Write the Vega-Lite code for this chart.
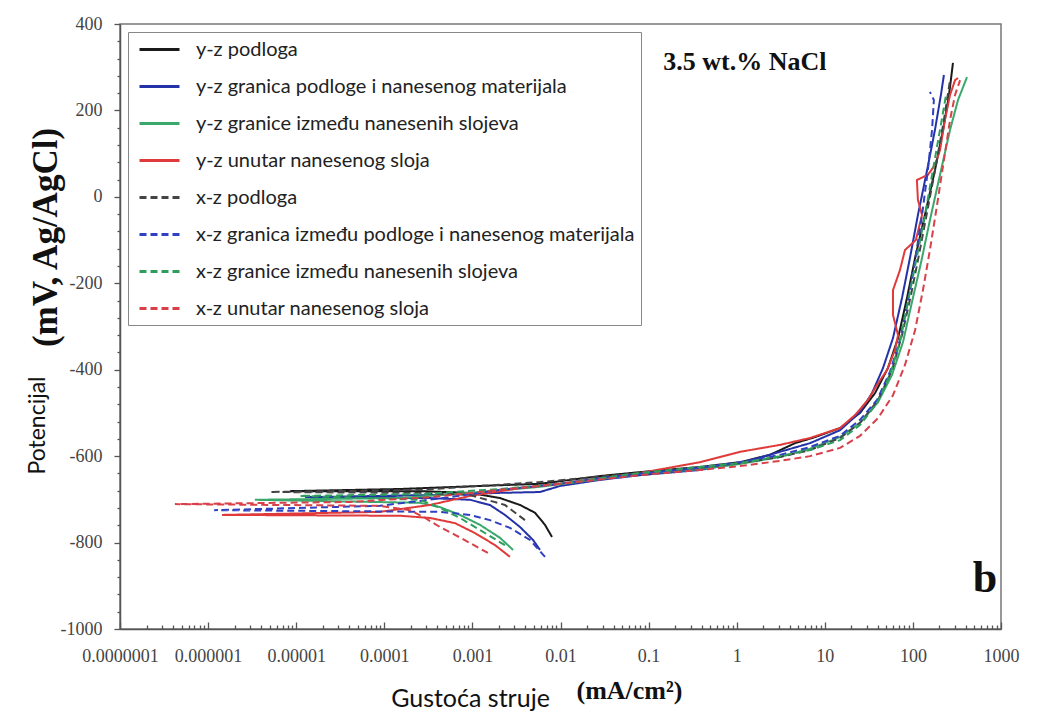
{
  "$schema": "https://vega.github.io/schema/vega-lite/v6.json",
  "width": 881,
  "height": 605,
  "autosize": {"type": "none"},
  "padding": {"left": 120, "top": 24, "right": 43, "bottom": 96},
  "background": "white",
  "config": {
    "view": {"stroke": "#777", "strokeWidth": 1.5},
    "axis": {"grid": false, "domainColor": "#555", "domainWidth": 1.5, "tickColor": "#555", "tickWidth": 1.3, "labelFont": "Liberation Serif", "labelFontSize": 18, "labelColor": "#444"}
  },
  "datasets": {
    "curves": [
      {"s":"y-z podloga","k":1,"i":0.0080,"E":-787},{"s":"y-z podloga","k":2,"i":0.00667,"E":-759},{"s":"y-z podloga","k":3,"i":0.00514,"E":-731},{"s":"y-z podloga","k":4,"i":0.00347,"E":-713},{"s":"y-z podloga","k":5,"i":0.00206,"E":-697},{"s":"y-z podloga","k":6,"i":0.00094,"E":-685},{"s":"y-z podloga","k":7,"i":0.000254,"E":-681},{"s":"y-z podloga","k":8,"i":0.0000085,"E":-681},{"s":"y-z podloga","k":9,"i":0.000151,"E":-676},{"s":"y-z podloga","k":10,"i":0.00122,"E":-669},{"s":"y-z podloga","k":11,"i":0.00585,"E":-664},{"s":"y-z podloga","k":12,"i":0.0281,"E":-646},{"s":"y-z podloga","k":13,"i":0.0798,"E":-637},{"s":"y-z podloga","k":14,"i":0.383,"E":-625},{"s":"y-z podloga","k":15,"i":1.09,"E":-614},{"s":"y-z podloga","k":16,"i":2.39,"E":-597},{"s":"y-z podloga","k":17,"i":4.59,"E":-570},{"s":"y-z podloga","k":18,"i":7.74,"E":-556},{"s":"y-z podloga","k":19,"i":14.9,"E":-535},{"s":"y-z podloga","k":20,"i":25.1,"E":-500},{"s":"y-z podloga","k":21,"i":37.2,"E":-454},{"s":"y-z podloga","k":22,"i":52.1,"E":-396},{"s":"y-z podloga","k":23,"i":67.8,"E":-327},{"s":"y-z podloga","k":24,"i":85.7,"E":-234},{"s":"y-z podloga","k":25,"i":106,"E":-141},{"s":"y-z podloga","k":26,"i":137,"E":-42},{"s":"y-z podloga","k":27,"i":178,"E":62},{"s":"y-z podloga","k":28,"i":220,"E":155},{"s":"y-z podloga","k":29,"i":257,"E":236},{"s":"y-z podloga","k":30,"i":285,"E":310},

      {"s":"y-z granica podloge i nanesenog materijala","k":1,"i":0.00585,"E":-817},{"s":"y-z granica podloge i nanesenog materijala","k":2,"i":0.00488,"E":-794},{"s":"y-z granica podloge i nanesenog materijala","k":3,"i":0.00347,"E":-764},{"s":"y-z granica podloge i nanesenog materijala","k":4,"i":0.00234,"E":-736},{"s":"y-z granica podloge i nanesenog materijala","k":5,"i":0.00158,"E":-713},{"s":"y-z granica podloge i nanesenog materijala","k":6,"i":0.00094,"E":-701},{"s":"y-z granica podloge i nanesenog materijala","k":7,"i":0.00033,"E":-697},{"s":"y-z granica podloge i nanesenog materijala","k":8,"i":0.0000126,"E":-695},{"s":"y-z granica podloge i nanesenog materijala","k":9,"i":0.00033,"E":-690},{"s":"y-z granica podloge i nanesenog materijala","k":10,"i":0.00206,"E":-685},{"s":"y-z granica podloge i nanesenog materijala","k":11,"i":0.00585,"E":-683},{"s":"y-z granica podloge i nanesenog materijala","k":12,"i":0.0099,"E":-669},{"s":"y-z granica podloge i nanesenog materijala","k":13,"i":0.0281,"E":-655},{"s":"y-z granica podloge i nanesenog materijala","k":14,"i":0.0798,"E":-644},{"s":"y-z granica podloge i nanesenog materijala","k":15,"i":0.383,"E":-632},{"s":"y-z granica podloge i nanesenog materijala","k":16,"i":1.09,"E":-616},{"s":"y-z granica podloge i nanesenog materijala","k":17,"i":3.10,"E":-590},{"s":"y-z granica podloge i nanesenog materijala","k":18,"i":6.79,"E":-570},{"s":"y-z granica podloge i nanesenog materijala","k":19,"i":14.9,"E":-540},{"s":"y-z granica podloge i nanesenog materijala","k":20,"i":25.1,"E":-498},{"s":"y-z granica podloge i nanesenog materijala","k":21,"i":34.4,"E":-454},{"s":"y-z granica podloge i nanesenog materijala","k":22,"i":45.8,"E":-396},{"s":"y-z granica podloge i nanesenog materijala","k":23,"i":59.4,"E":-327},{"s":"y-z granica podloge i nanesenog materijala","k":24,"i":75.2,"E":-234},{"s":"y-z granica podloge i nanesenog materijala","k":25,"i":92.7,"E":-141},{"s":"y-z granica podloge i nanesenog materijala","k":26,"i":114,"E":-42},{"s":"y-z granica podloge i nanesenog materijala","k":27,"i":145,"E":62},{"s":"y-z granica podloge i nanesenog materijala","k":28,"i":178,"E":155},{"s":"y-z granica podloge i nanesenog materijala","k":29,"i":208,"E":236},{"s":"y-z granica podloge i nanesenog materijala","k":30,"i":225,"E":282},

      {"s":"y-z granice između nanesenih slojeva","k":1,"i":0.00289,"E":-817},{"s":"y-z granice između nanesenih slojeva","k":2,"i":0.00206,"E":-789},{"s":"y-z granice između nanesenih slojeva","k":3,"i":0.00122,"E":-759},{"s":"y-z granice između nanesenih slojeva","k":4,"i":0.000722,"E":-736},{"s":"y-z granice između nanesenih slojeva","k":5,"i":0.000429,"E":-718},{"s":"y-z granice između nanesenih slojeva","k":6,"i":0.000254,"E":-708},{"s":"y-z granice između nanesenih slojeva","k":7,"i":0.0000034,"E":-701},{"s":"y-z granice između nanesenih slojeva","k":8,"i":0.000151,"E":-697},{"s":"y-z granice između nanesenih slojeva","k":9,"i":0.00122,"E":-683},{"s":"y-z granice između nanesenih slojeva","k":10,"i":0.00585,"E":-671},{"s":"y-z granice između nanesenih slojeva","k":11,"i":0.0281,"E":-653},{"s":"y-z granice između nanesenih slojeva","k":12,"i":0.0798,"E":-641},{"s":"y-z granice između nanesenih slojeva","k":13,"i":0.383,"E":-630},{"s":"y-z granice između nanesenih slojeva","k":14,"i":1.09,"E":-618},{"s":"y-z granice između nanesenih slojeva","k":15,"i":3.10,"E":-602},{"s":"y-z granice između nanesenih slojeva","k":16,"i":6.79,"E":-583},{"s":"y-z granice između nanesenih slojeva","k":17,"i":14.9,"E":-556},{"s":"y-z granice između nanesenih slojeva","k":18,"i":25.1,"E":-523},{"s":"y-z granice između nanesenih slojeva","k":19,"i":40.2,"E":-475},{"s":"y-z granice između nanesenih slojeva","k":20,"i":57.9,"E":-412},{"s":"y-z granice između nanesenih slojeva","k":21,"i":77.2,"E":-336},{"s":"y-z granice između nanesenih slojeva","k":22,"i":97.7,"E":-243},{"s":"y-z granice između nanesenih slojeva","k":23,"i":124,"E":-151},{"s":"y-z granice između nanesenih slojeva","k":24,"i":156,"E":-54},{"s":"y-z granice između nanesenih slojeva","k":25,"i":203,"E":51},{"s":"y-z granice između nanesenih slojeva","k":26,"i":264,"E":155},{"s":"y-z granice između nanesenih slojeva","k":27,"i":325,"E":224},{"s":"y-z granice između nanesenih slojeva","k":28,"i":411,"E":277},

      {"s":"y-z unutar nanesenog sloja","k":1,"i":0.00267,"E":-833},{"s":"y-z unutar nanesenog sloja","k":2,"i":0.00181,"E":-806},{"s":"y-z unutar nanesenog sloja","k":3,"i":0.00107,"E":-778},{"s":"y-z unutar nanesenog sloja","k":4,"i":0.000634,"E":-755},{"s":"y-z unutar nanesenog sloja","k":5,"i":0.00033,"E":-743},{"s":"y-z unutar nanesenog sloja","k":6,"i":0.000151,"E":-738},{"s":"y-z unutar nanesenog sloja","k":7,"i":0.00000144,"E":-736},{"s":"y-z unutar nanesenog sloja","k":8,"i":0.000089,"E":-729},{"s":"y-z unutar nanesenog sloja","k":9,"i":0.00033,"E":-713},{"s":"y-z unutar nanesenog sloja","k":10,"i":0.00094,"E":-692},{"s":"y-z unutar nanesenog sloja","k":11,"i":0.00347,"E":-674},{"s":"y-z unutar nanesenog sloja","k":12,"i":0.0099,"E":-664},{"s":"y-z unutar nanesenog sloja","k":13,"i":0.0281,"E":-651},{"s":"y-z unutar nanesenog sloja","k":14,"i":0.0798,"E":-639},{"s":"y-z unutar nanesenog sloja","k":15,"i":0.383,"E":-614},{"s":"y-z unutar nanesenog sloja","k":16,"i":1.09,"E":-590},{"s":"y-z unutar nanesenog sloja","k":17,"i":3.10,"E":-574},{"s":"y-z unutar nanesenog sloja","k":18,"i":6.79,"E":-558},{"s":"y-z unutar nanesenog sloja","k":19,"i":14.9,"E":-535},{"s":"y-z unutar nanesenog sloja","k":20,"i":22.0,"E":-505},{"s":"y-z unutar nanesenog sloja","k":21,"i":30.9,"E":-470},{"s":"y-z unutar nanesenog sloja","k":22,"i":39.2,"E":-435},{"s":"y-z unutar nanesenog sloja","k":23,"i":50.8,"E":-401},{"s":"y-z unutar nanesenog sloja","k":24,"i":62.7,"E":-354},{"s":"y-z unutar nanesenog sloja","k":25,"i":67.8,"E":-320},{"s":"y-z unutar nanesenog sloja","k":26,"i":59.4,"E":-273},{"s":"y-z unutar nanesenog sloja","k":27,"i":59.4,"E":-216},{"s":"y-z unutar nanesenog sloja","k":28,"i":71.4,"E":-169},{"s":"y-z unutar nanesenog sloja","k":29,"i":81.3,"E":-123},{"s":"y-z unutar nanesenog sloja","k":30,"i":108,"E":-100},{"s":"y-z unutar nanesenog sloja","k":31,"i":127,"E":-42},{"s":"y-z unutar nanesenog sloja","k":32,"i":114,"E":-7},{"s":"y-z unutar nanesenog sloja","k":33,"i":111,"E":39},{"s":"y-z unutar nanesenog sloja","k":34,"i":148,"E":51},{"s":"y-z unutar nanesenog sloja","k":35,"i":178,"E":74},{"s":"y-z unutar nanesenog sloja","k":36,"i":203,"E":108},{"s":"y-z unutar nanesenog sloja","k":37,"i":231,"E":178},{"s":"y-z unutar nanesenog sloja","k":38,"i":264,"E":236},{"s":"y-z unutar nanesenog sloja","k":39,"i":301,"E":270},{"s":"y-z unutar nanesenog sloja","k":40,"i":325,"E":275},

      {"s":"x-z podloga","k":1,"i":0.00395,"E":-748},{"s":"x-z podloga","k":2,"i":0.00234,"E":-713},{"s":"x-z podloga","k":3,"i":0.00094,"E":-690},{"s":"x-z podloga","k":4,"i":0.000254,"E":-685},{"s":"x-z podloga","k":5,"i":0.00000505,"E":-683},{"s":"x-z podloga","k":6,"i":0.000254,"E":-678},{"s":"x-z podloga","k":7,"i":0.00585,"E":-660},{"s":"x-z podloga","k":8,"i":0.0798,"E":-639},{"s":"x-z podloga","k":9,"i":0.383,"E":-627},{"s":"x-z podloga","k":10,"i":1.09,"E":-616},{"s":"x-z podloga","k":11,"i":3.10,"E":-602},{"s":"x-z podloga","k":12,"i":6.79,"E":-586},{"s":"x-z podloga","k":13,"i":14.9,"E":-558},{"s":"x-z podloga","k":14,"i":25.1,"E":-523},{"s":"x-z podloga","k":15,"i":40.2,"E":-470},{"s":"x-z podloga","k":16,"i":57.9,"E":-401},{"s":"x-z podloga","k":17,"i":75.2,"E":-320},{"s":"x-z podloga","k":18,"i":95.1,"E":-227},{"s":"x-z podloga","k":19,"i":117,"E":-135},{"s":"x-z podloga","k":20,"i":145,"E":-35},{"s":"x-z podloga","k":21,"i":183,"E":74},{"s":"x-z podloga","k":22,"i":225,"E":178},{"s":"x-z podloga","k":23,"i":264,"E":270},

      {"s":"x-z granica između podloge i nanesenog materijala","k":1,"i":0.00667,"E":-833},{"s":"x-z granica između podloge i nanesenog materijala","k":2,"i":0.00451,"E":-794},{"s":"x-z granica između podloge i nanesenog materijala","k":3,"i":0.00267,"E":-766},{"s":"x-z granica između podloge i nanesenog materijala","k":4,"i":0.00158,"E":-748},{"s":"x-z granica između podloge i nanesenog materijala","k":5,"i":0.00094,"E":-736},{"s":"x-z granica između podloge i nanesenog materijala","k":6,"i":0.000429,"E":-729},{"s":"x-z granica između podloge i nanesenog materijala","k":7,"i":0.00000117,"E":-725},{"s":"x-z granica između podloge i nanesenog materijala","k":8,"i":0.000089,"E":-715},{"s":"x-z granica između podloge i nanesenog materijala","k":9,"i":0.000557,"E":-695},{"s":"x-z granica između podloge i nanesenog materijala","k":10,"i":0.00206,"E":-678},{"s":"x-z granica između podloge i nanesenog materijala","k":11,"i":0.0099,"E":-664},{"s":"x-z granica između podloge i nanesenog materijala","k":12,"i":0.0281,"E":-651},{"s":"x-z granica između podloge i nanesenog materijala","k":13,"i":0.0798,"E":-641},{"s":"x-z granica između podloge i nanesenog materijala","k":14,"i":0.383,"E":-627},{"s":"x-z granica između podloge i nanesenog materijala","k":15,"i":1.09,"E":-614},{"s":"x-z granica između podloge i nanesenog materijala","k":16,"i":3.10,"E":-597},{"s":"x-z granica između podloge i nanesenog materijala","k":17,"i":6.79,"E":-579},{"s":"x-z granica između podloge i nanesenog materijala","k":18,"i":14.9,"E":-553},{"s":"x-z granica između podloge i nanesenog materijala","k":19,"i":25.1,"E":-516},{"s":"x-z granica između podloge i nanesenog materijala","k":20,"i":39.2,"E":-470},{"s":"x-z granica između podloge i nanesenog materijala","k":21,"i":54.9,"E":-405},{"s":"x-z granica između podloge i nanesenog materijala","k":22,"i":71.4,"E":-331},{"s":"x-z granica između podloge i nanesenog materijala","k":23,"i":87.9,"E":-239},{"s":"x-z granica između podloge i nanesenog materijala","k":24,"i":106,"E":-146},{"s":"x-z granica između podloge i nanesenog materijala","k":25,"i":127,"E":-42},{"s":"x-z granica između podloge i nanesenog materijala","k":26,"i":148,"E":62},{"s":"x-z granica između podloge i nanesenog materijala","k":27,"i":165,"E":155},{"s":"x-z granica između podloge i nanesenog materijala","k":28,"i":173,"E":224},{"s":"x-z granica između podloge i nanesenog materijala","k":29,"i":156,"E":243},

      {"s":"x-z granice između nanesenih slojeva","k":1,"i":0.00234,"E":-806},{"s":"x-z granice između nanesenih slojeva","k":2,"i":0.00122,"E":-771},{"s":"x-z granice između nanesenih slojeva","k":3,"i":0.000722,"E":-743},{"s":"x-z granice između nanesenih slojeva","k":4,"i":0.000429,"E":-720},{"s":"x-z granice između nanesenih slojeva","k":5,"i":0.000254,"E":-701},{"s":"x-z granice između nanesenih slojeva","k":6,"i":0.000011,"E":-692},{"s":"x-z granice između nanesenih slojeva","k":7,"i":0.000254,"E":-688},{"s":"x-z granice između nanesenih slojeva","k":8,"i":0.00206,"E":-676},{"s":"x-z granice između nanesenih slojeva","k":9,"i":0.0099,"E":-664},{"s":"x-z granice između nanesenih slojeva","k":10,"i":0.0798,"E":-639},{"s":"x-z granice između nanesenih slojeva","k":11,"i":0.383,"E":-625},{"s":"x-z granice između nanesenih slojeva","k":12,"i":1.09,"E":-616},{"s":"x-z granice između nanesenih slojeva","k":13,"i":3.10,"E":-600},{"s":"x-z granice između nanesenih slojeva","k":14,"i":6.79,"E":-586},{"s":"x-z granice između nanesenih slojeva","k":15,"i":14.9,"E":-563},{"s":"x-z granice između nanesenih slojeva","k":16,"i":25.1,"E":-528},{"s":"x-z granice između nanesenih slojeva","k":17,"i":39.2,"E":-477},{"s":"x-z granice između nanesenih slojeva","k":18,"i":54.9,"E":-412},{"s":"x-z granice između nanesenih slojeva","k":19,"i":71.4,"E":-336},{"s":"x-z granice između nanesenih slojeva","k":20,"i":87.9,"E":-243},{"s":"x-z granice između nanesenih slojeva","k":21,"i":108,"E":-151},{"s":"x-z granice između nanesenih slojeva","k":22,"i":134,"E":-54},{"s":"x-z granice između nanesenih slojeva","k":23,"i":165,"E":51},{"s":"x-z granice između nanesenih slojeva","k":24,"i":203,"E":155},{"s":"x-z granice između nanesenih slojeva","k":25,"i":238,"E":236},

      {"s":"x-z unutar nanesenog sloja","k":1,"i":0.0015,"E":-824},{"s":"x-z unutar nanesenog sloja","k":2,"i":0.00094,"E":-801},{"s":"x-z unutar nanesenog sloja","k":3,"i":0.000634,"E":-782},{"s":"x-z unutar nanesenog sloja","k":4,"i":0.000429,"E":-764},{"s":"x-z unutar nanesenog sloja","k":5,"i":0.00029,"E":-743},{"s":"x-z unutar nanesenog sloja","k":6,"i":0.000196,"E":-725},{"s":"x-z unutar nanesenog sloja","k":7,"i":0.000089,"E":-715},{"s":"x-z unutar nanesenog sloja","k":8,"i":0.00000042,"E":-711},{"s":"x-z unutar nanesenog sloja","k":9,"i":0.000041,"E":-706},{"s":"x-z unutar nanesenog sloja","k":10,"i":0.00033,"E":-695},{"s":"x-z unutar nanesenog sloja","k":11,"i":0.00206,"E":-678},{"s":"x-z unutar nanesenog sloja","k":12,"i":0.0099,"E":-664},{"s":"x-z unutar nanesenog sloja","k":13,"i":0.0798,"E":-644},{"s":"x-z unutar nanesenog sloja","k":14,"i":0.383,"E":-632},{"s":"x-z unutar nanesenog sloja","k":15,"i":1.09,"E":-623},{"s":"x-z unutar nanesenog sloja","k":16,"i":3.10,"E":-611},{"s":"x-z unutar nanesenog sloja","k":17,"i":6.79,"E":-600},{"s":"x-z unutar nanesenog sloja","k":18,"i":14.9,"E":-581},{"s":"x-z unutar nanesenog sloja","k":19,"i":25.1,"E":-553},{"s":"x-z unutar nanesenog sloja","k":20,"i":40.2,"E":-512},{"s":"x-z unutar nanesenog sloja","k":21,"i":59.4,"E":-459},{"s":"x-z unutar nanesenog sloja","k":22,"i":81.3,"E":-389},{"s":"x-z unutar nanesenog sloja","k":23,"i":106,"E":-308},{"s":"x-z unutar nanesenog sloja","k":24,"i":130,"E":-216},{"s":"x-z unutar nanesenog sloja","k":25,"i":156,"E":-123},{"s":"x-z unutar nanesenog sloja","k":26,"i":188,"E":-19},{"s":"x-z unutar nanesenog sloja","k":27,"i":225,"E":85},{"s":"x-z unutar nanesenog sloja","k":28,"i":264,"E":178},{"s":"x-z unutar nanesenog sloja","k":29,"i":301,"E":236},{"s":"x-z unutar nanesenog sloja","k":30,"i":343,"E":270}
    ],
    "notes": [
      {"label": "3.5 wt.% NaCl", "i": 1.24, "E": 312, "size": "m"},
      {"label": "b", "i": 658, "E": -885, "size": "l"}
    ]
  },
  "layer": [
    {
      "data": {"name": "curves"},
      "mark": {"type": "line", "strokeWidth": 2, "clip": true},
      "encoding": {
        "x": {
          "field": "i", "type": "quantitative",
          "scale": {"type": "log", "domain": [1e-7, 1000], "nice": false},
          "axis": {
            "values": [1e-7,1e-6,1e-5,1e-4,0.001,0.01,0.1,1,10,100,1000],
            "labelExpr": "format(datum.value, '.7~f')",
            "tickSize": -7,
            "labelPadding": 25,
            "labelFlush": false,
            "labelOverlap": false,
            "title": "(mA/cm²)",
            "titleFont": "Liberation Serif", "titleFontWeight": "bold", "titleFontSize": 26, "titleColor": "#111",
            "titleX": 509, "titleY": 61, "titleAlign": "center", "titleBaseline": "middle"
          }
        },
        "y": {
          "field": "E", "type": "quantitative",
          "scale": {"domain": [-1000, 400], "nice": false},
          "axis": {
            "values": [-1000,-800,-600,-400,-200,0,200,400],
            "labelExpr": "'' + datum.value",
            "tickSize": 6,
            "labelPadding": 12,
            "labelOverlap": false,
            "title": "(mV, Ag/AgCl)",
            "titleFont": "Liberation Serif", "titleFontWeight": "bold", "titleFontSize": 35, "titleColor": "#111",
            "titleX": -75, "titleY": 213, "titleAngle": -90, "titleAlign": "center", "titleBaseline": "middle"
          }
        },
        "order": {"field": "k", "type": "quantitative"},
        "color": {
          "field": "s", "type": "nominal",
          "scale": {
            "domain": ["y-z podloga","y-z granica podloge i nanesenog materijala","y-z granice između nanesenih slojeva","y-z unutar nanesenog sloja","x-z podloga","x-z granica između podloge i nanesenog materijala","x-z granice između nanesenih slojeva","x-z unutar nanesenog sloja"],
            "range": ["#1a1a1a","#2432a8","#3aa86b","#e03a3a","#444444","#3040c0","#2e9e5e","#d8404a"]
          },
          "legend": {
            "title": null, "orient": "top-left", "offset": 8,
            "symbolType": "M-2,0H2", "symbolSize": 400, "symbolStrokeWidth": 3, "symbolOffset": 14,
            "labelFont": "Lato", "labelFontSize": 20, "labelColor": "#222", "labelLimit": 700,
            "labelOffset": 25, "rowPadding": 15, "padding": 6,
            "strokeColor": "#888", "fillColor": "white"
          }
        },
        "strokeDash": {
          "field": "s", "type": "nominal",
          "scale": {
            "domain": ["y-z podloga","y-z granica podloge i nanesenog materijala","y-z granice između nanesenih slojeva","y-z unutar nanesenog sloja","x-z podloga","x-z granica između podloge i nanesenog materijala","x-z granice između nanesenih slojeva","x-z unutar nanesenog sloja"],
            "range": [[1,0],[1,0],[1,0],[1,0],[7,4],[7,4],[7,4],[7,4]]
          },
          "legend": null
        }
      }
    },
    {
      "data": {"name": "notes"},
      "mark": {"type": "text", "font": "Liberation Serif", "fontWeight": "bold", "color": "#111", "align": "center", "baseline": "middle"},
      "encoding": {
        "x": {"field": "i", "type": "quantitative", "axis": {"orient": "bottom",
          "values": [2e-7,3e-7,4e-7,5e-7,6e-7,7e-7,8e-7,9e-7,2e-6,3e-6,4e-6,5e-6,6e-6,7e-6,8e-6,9e-6,2e-5,3e-5,4e-5,5e-5,6e-5,7e-5,8e-5,9e-5,2e-4,3e-4,4e-4,5e-4,6e-4,7e-4,8e-4,9e-4,0.002,0.003,0.004,0.005,0.006,0.007,0.008,0.009,0.02,0.03,0.04,0.05,0.06,0.07,0.08,0.09,0.2,0.3,0.4,0.5,0.6,0.7,0.8,0.9,2,3,4,5,6,7,8,9,20,30,40,50,60,70,80,90,200,300,400,500,600,700,800,900],
          "labels": false, "tickSize": -4, "domain": false, "grid": false,
          "title": "Gustoća struje", "titleFont": "Lato", "titleFontWeight": "normal", "titleFontSize": 25, "titleColor": "#111", "titleX": 350, "titleY": 69, "titleAlign": "center", "titleBaseline": "middle"}},
        "y": {"field": "E", "type": "quantitative", "axis": {"orient": "left",
          "values": [-960,-920,-880,-840,-760,-720,-680,-640,-560,-520,-480,-440,-360,-320,-280,-240,-160,-120,-80,-40,40,80,120,160,240,280,320,360],
          "labels": false, "tickSize": 3, "domain": false, "grid": false,
          "title": "Potencijal", "titleFont": "Lato", "titleFontWeight": "normal", "titleFontSize": 23, "titleColor": "#111", "titleX": -83, "titleY": 401, "titleAngle": -90, "titleAlign": "center", "titleBaseline": "middle"}},
        "text": {"field": "label"},
        "size": {"field": "size", "type": "nominal", "scale": {"domain": ["m", "l"], "range": [26, 44]}, "legend": null}
      }
    }
  ],
  "resolve": {"axis": {"x": "independent", "y": "independent"}}
}
